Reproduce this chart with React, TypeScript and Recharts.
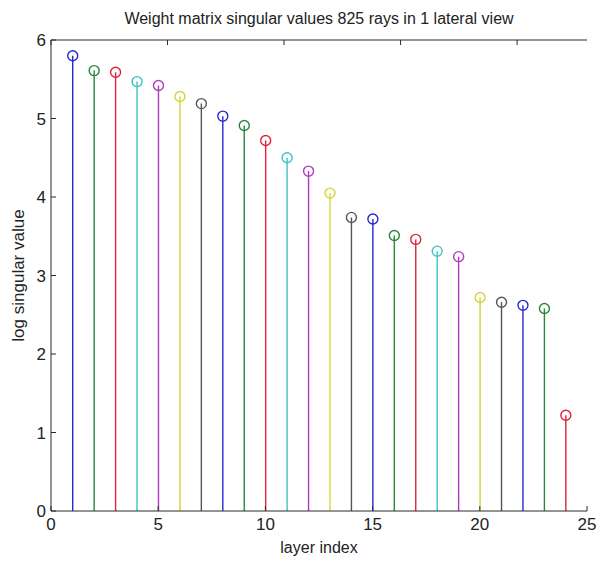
import { Bar, Cell, ComposedChart, XAxis, YAxis } from "recharts";

const layerIndex = [1, 2, 3, 4, 5, 6, 7, 8, 9, 10, 11, 12, 13, 14, 15, 16, 17, 18, 19, 20, 21, 22, 23, 24];
const logSingularValue = [
  5.8, 5.61, 5.59, 5.47, 5.42, 5.28, 5.19, 5.03, 4.91, 4.72, 4.5, 4.33,
  4.05, 3.74, 3.72, 3.51, 3.46, 3.31, 3.24, 2.72, 2.66, 2.62, 2.58, 1.22,
];
const xTicks = [0, 5, 10, 15, 20, 25];
const yTicks = [0, 1, 2, 3, 4, 5, 6];

// default stem colour cycle: b g r c m y k
const colorOrder = ["#2727d4", "#27883a", "#e0223c", "#3cc4c4", "#b23ac0", "#d4d43a", "#555555"];

const FONT = "'Liberation Sans', Arial, sans-serif";
const AXIS = "#2a2a2a";

const data = layerIndex.map((layer, i) => ({ layer, value: logSingularValue[i] }));

// vertical stem from the baseline up to the value, with an open circle on top
function Stem(props: any) {
  const { x, y, width, height, fill } = props;
  const cx = x + width / 2;
  return (
    <g>
      <line x1={cx} x2={cx} y1={y + height} y2={y} stroke={fill} strokeWidth={1.4} />
      <circle cx={cx} cy={y} r={5} fill="none" stroke={fill} strokeWidth={1.4} />
    </g>
  );
}

const tickStyle = { fill: "#222", fontSize: 17, fontFamily: FONT };

export default function App() {
  return (
    <div style={{ position: "absolute", left: 0, top: 0, width: 597, height: 562, background: "#fff" }}>
      <div
        style={{
          position: "absolute",
          left: 51,
          width: 536,
          top: 10,
          textAlign: "center",
          fontFamily: FONT,
          fontSize: 16,
          color: "#222",
          whiteSpace: "nowrap",
        }}
      >
        Weight matrix singular values 825 rays in 1 lateral view
      </div>
      <ComposedChart
        width={597}
        height={562}
        data={data}
        margin={{ top: 39, right: 10, bottom: 21, left: 0 }}
      >
        <XAxis
          dataKey="layer"
          type="number"
          domain={[0, 25]}
          ticks={xTicks}
          interval={0}
          height={30}
          tickSize={-5}
          tickMargin={12}
          stroke={AXIS}
          tick={tickStyle}
          label={{ value: "layer index", position: "bottom", offset: 1, fill: "#222", fontSize: 16, fontFamily: FONT }}
        />
        <XAxis
          xAxisId="top"
          orientation="top"
          type="number"
          domain={[0, 25]}
          ticks={xTicks}
          interval={0}
          height={1}
          tickSize={-5}
          tickFormatter={() => ""}
          stroke={AXIS}
        />
        <YAxis
          type="number"
          domain={[0, 6]}
          ticks={yTicks}
          interval={0}
          width={51}
          tickSize={-5}
          tickMargin={10}
          stroke={AXIS}
          tick={tickStyle}
          label={{
            value: "log singular value",
            angle: -90,
            position: "insideLeft",
            offset: 18,
            fill: "#222",
            fontSize: 17,
            fontFamily: FONT,
            style: { textAnchor: "middle" },
          }}
        />
        <YAxis
          yAxisId="right"
          orientation="right"
          type="number"
          domain={[0, 6]}
          ticks={yTicks}
          interval={0}
          width={0}
          tickSize={-5}
          tickFormatter={() => ""}
          stroke={AXIS}
        />
        <Bar dataKey="value" barSize={2} shape={Stem} isAnimationActive={false}>
          {data.map((d, i) => (
            <Cell key={d.layer} fill={colorOrder[i % colorOrder.length]} />
          ))}
        </Bar>
      </ComposedChart>
    </div>
  );
}
